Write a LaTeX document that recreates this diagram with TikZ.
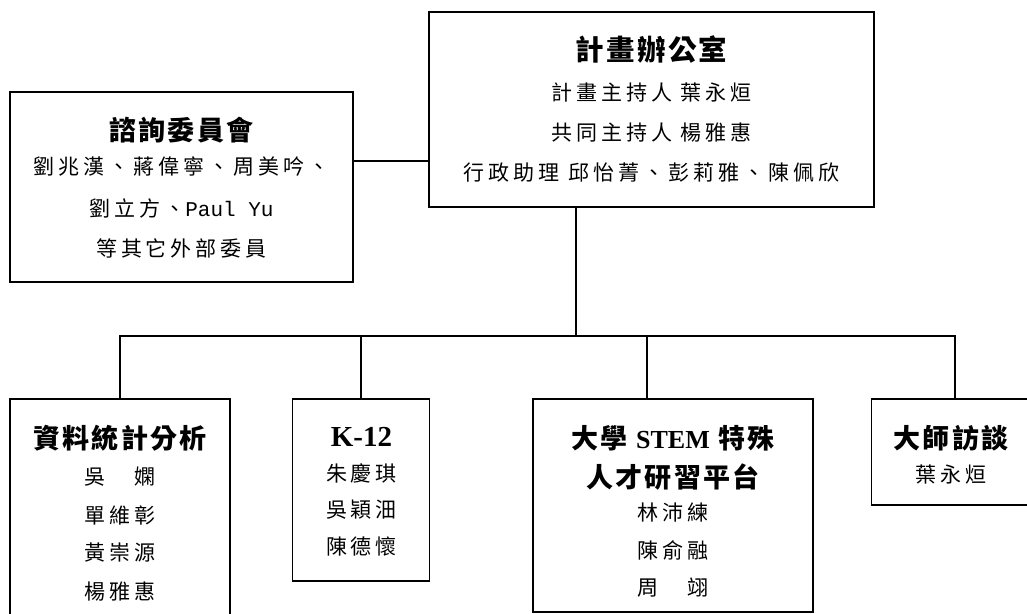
\documentclass[tikz,border=0pt]{standalone}
\usepackage{fontspec}
\setmainfont{Liberation Serif}
\newfontfamily\cjk[LetterSpace=19]{Noto Sans CJK TC}
\newfontfamily\cjkt[LetterSpace=8]{Noto Sans CJK TC}
\newfontfamily\lmono{Liberation Mono}
\tikzset{
  box/.style={draw, line width=1.7pt, rectangle, inner sep=0pt},
  body/.style={font=\cjk\fontsize{21}{24}\selectfont, inner sep=0pt},
  ttl/.style={font=\cjkt\bfseries\fontsize{27}{30}\selectfont, inner sep=0pt},
  link/.style={line width=1.8pt},
}
\begin{document}
\begin{tikzpicture}[x=1pt,y=-1pt]
\useasboundingbox (0,0) rectangle (1027,613);
% boxes
\node[box, minimum width=445, minimum height=195] (office) at (651.5,109.5) {};
\node[box, minimum width=343, minimum height=190] (adv) at (181.5,187) {};
\node[box, minimum width=220, minimum height=226] (b1) at (120,512) {};
\node[box, minimum width=137, minimum height=182] (b2) at (361,490) {};
\node[box, minimum width=280, minimum height=213] (b3) at (673,505.5) {};
\node[box, minimum width=167, minimum height=106] (b4) at (955,452) {};
% office text
\node[ttl, font=\cjkt\bfseries\fontsize{28.5}{30}\selectfont] (ot) at (651.5,50) {計畫辦公室};
\node[body] (o1) at (651.5,93) {計畫主持人 葉永烜};
\node[body] (o2) at (651.5,133) {共同主持人 楊雅惠};
\node[body] (o3) at (651.5,173) {行政助理 邱怡菁、彭莉雅、陳佩欣};
% advisory text
\node[ttl] (at) at (181.5,130) {諮詢委員會};
\node[body] (a1) at (181.5,167) {劉兆漢、蔣偉寧、周美吟、};
\node[body] (a2) at (181.5,208) {劉立方、{\lmono\fontsize{21}{22}\selectfont Paul Yu}};
\node[body] (a3) at (181.5,248) {等其它外部委員};
% b1
\node[ttl] (t1) at (120,438) {資料統計分析};
\node[body] (n11) at (120,477) {吳　嫻};
\node[body] (n12) at (120,515) {單維彰};
\node[body] (n13) at (120,553) {黃崇源};
\node[body] (n14) at (120,592) {楊雅惠};
% b2
\node[inner sep=0pt, font=\rmfamily\bfseries\fontsize{29}{30}\selectfont] (t2) at (361.5,437) {K-12};
\node[body] (n21) at (361.5,473) {朱慶琪};
\node[body] (n22) at (361.5,510) {吳穎沺};
\node[body] (n23) at (361.5,547) {陳德懷};
% b3
\node[ttl] (t3a) at (673,438) {大學 {\rmfamily\bfseries\fontsize{26}{30}\selectfont STEM} 特殊};
\node[ttl] (t3b) at (673,477) {人才研習平台};
\node[body] (n31) at (673,513) {林沛練};
\node[body] (n32) at (673,550) {陳俞融};
\node[body] (n33) at (673,588) {周　翊};
% b4
\node[ttl] (t4) at (951,438) {大師訪談};
\node[body] (n41) at (951,475) {葉永烜};
% connectors
\coordinate (bar) at (576,336);
\coordinate (advy) at (0,161);
\coordinate (b3tap) at (647,399);
\draw[link] (adv.east |- advy) -- (office.west |- advy);
\draw[link] (office.south -| bar) -- (bar);
\draw[link] (b1.north) |- (bar);
\draw[link] (bar) -| (b4.north);
\draw[link] (b2.north) -- (b2.north |- bar);
\draw[link] (b3tap) -- (b3tap |- bar);
\end{tikzpicture}
\end{document}
